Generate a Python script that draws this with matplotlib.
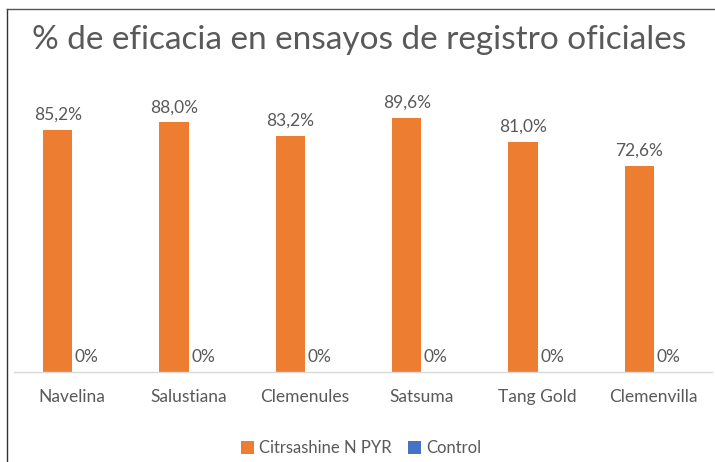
import matplotlib
matplotlib.use("Agg")
import matplotlib.pyplot as plt
import numpy as np

categories = ["Navelina", "Salustiana", "Clemenules", "Satsuma", "Tang Gold", "Clemenvilla"]
citrsashine = [85.2, 88.0, 83.2, 89.6, 81.0, 72.6]
control = [0, 0, 0, 0, 0, 0]
series_names = ["Citrsashine N PYR", "Control"]
title = "% de eficacia en ensayos de registro oficiales"

plt.rcParams['font.family'] = ['Lato', 'DejaVu Sans']
grey = "#595959"
orange = "#ED7D31"
blue = "#4472C4"

fig = plt.figure(figsize=(7.15, 4.62), dpi=100)
ax = fig.add_axes([14/715, 1-372/462, 698/715, (372-88)/462])

x = np.arange(len(categories))
w = 0.25
b1 = ax.bar(x - w/2, citrsashine, w, color=orange, label=series_names[0])
b2 = ax.bar(x + w/2, control, w, color=blue, label=series_names[1])

def fmt(v):
    if v == 0:
        return "0%"
    return f"{v:.1f}%".replace(".", ",")

for rect, v in zip(b1, citrsashine):
    ax.annotate(fmt(v), (rect.get_x() + rect.get_width()/2, v), xytext=(0, 5),
                textcoords="offset points", ha="center", va="bottom", fontsize=12.5, color=grey)
for rect, v in zip(b2, control):
    ax.annotate(fmt(v), (rect.get_x() + rect.get_width()/2, v), xytext=(0, 5),
                textcoords="offset points", ha="center", va="bottom", fontsize=12.5, color=grey)

ax.set_xlim(-0.5, len(categories) - 0.5)
ax.set_ylim(0, 100)
ax.set_yticks([])
ax.set_xticks(x)
ax.set_xticklabels(categories, fontsize=12.5, color=grey)
ax.tick_params(axis='x', length=0, pad=12)
for s in ["top", "right", "left"]:
    ax.spines[s].set_visible(False)
ax.spines["bottom"].set_color("#D9D9D9")
ax.spines["bottom"].set_linewidth(1)

fig.text(0.502, 1-40/462, title, ha="center", va="center", fontsize=24, color=grey)

leg = fig.legend(handles=[b1, b2], labels=series_names, loc="center", bbox_to_anchor=(0.505, 1-448/462),
                 ncol=2, frameon=False, fontsize=12, handlelength=0.8, handleheight=0.8,
                 handletextpad=0.3, columnspacing=1.0, labelcolor=grey)

# outer border (top and left visible)
fig.add_artist(plt.Line2D([7/715, 7/715], [0, 1-9/462], transform=fig.transFigure, color="#333333", lw=1))
fig.add_artist(plt.Line2D([7/715, 1], [1-9/462, 1-9/462], transform=fig.transFigure, color="#555555", lw=1))

fig.savefig("out.png", dpi=100)
